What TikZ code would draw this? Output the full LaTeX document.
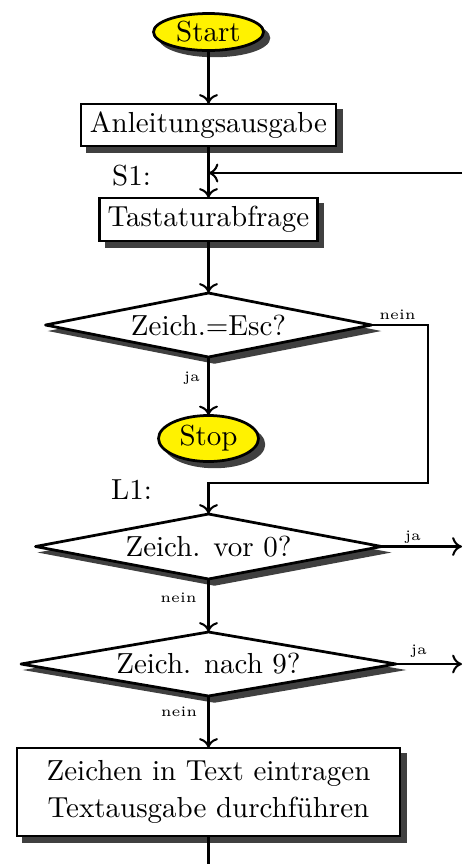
\documentclass[tikz,border=0pt]{standalone}
\usetikzlibrary{shapes.geometric,arrows.meta,calc}
\pgfdeclarelayer{bg}
\pgfsetlayers{bg,main}
\def\PX{0.345pt}
\tikzset{
  base/.style={draw, line width=0.95pt, inner sep=0pt, outer sep=0pt, fill=white, font=\normalsize},
  term/.style={base, ellipse, fill=yellow},
  procbox/.style={base, rectangle},
  decide/.style={base, diamond, line join=round},
  conn/.style={line width=0.7pt, -{To[length=3.4pt,width=6.5pt]}},
  plainconn/.style={line width=0.7pt},
  lbl/.style={font=\tiny, inner sep=0pt},
  jump/.style={font=\normalsize, inner sep=0pt},
  shade/.style={fill=black!75, draw=black!75, line width=0.5pt, line join=miter},
}
\newcommand\ShRect[1]{\path[shade] ([shift={(6,6)}]#1.north west) rectangle ([shift={(6,6)}]#1.south east);}
\newcommand\ShDiam[1]{\path[shade] ([shift={(6,6)}]#1.north) -- ([shift={(6,6)}]#1.east) -- ([shift={(6,6)}]#1.south) -- ([shift={(6,6)}]#1.west) -- cycle;}
\newcommand\ShEll[3]{\path[shade] ([shift={(6,6)}]#1.center) ellipse [x radius=#2*0.345pt, y radius=#3*0.345pt];}
\begin{document}
\begin{tikzpicture}[x=\PX, y=-\PX]
\useasboundingbox (0,0) rectangle (462,864);

% nodes
\node[term, minimum width=110*\PX, minimum height=37*\PX] (start) at (208.5,32) {Start};
\node[procbox, minimum width=255*\PX, minimum height=42*\PX] (b1) at (208.5,125) {Anleitungsausgabe};
\node[procbox, minimum width=218*\PX, minimum height=43*\PX] (b2) at (208.5,219.5) {Tastaturabfrage};
\node[decide, aspect=5.1, minimum width=326*\PX, minimum height=64*\PX] (d1) at (208.5,325) {Zeich.=Esc?};
\node[term, minimum width=100*\PX, minimum height=46*\PX] (stop) at (208.5,438.5) {Stop};
\node[decide, aspect=5.3, minimum width=346*\PX, minimum height=65*\PX] (d2) at (208.5,546.5) {Zeich. vor 0?};
\node[decide, aspect=5.8, minimum width=375*\PX, minimum height=64*\PX] (d3) at (208.5,664) {Zeich. nach 9?};
\node[procbox, minimum width=383*\PX, minimum height=88*\PX, align=center] (b3) at (208.5,792) {Zeichen in Text eintragen\\[0.8pt]Textausgabe durchführen};

% shadows
\begin{pgfonlayer}{bg}
  \ShEll{start}{55}{18.5}
  \ShRect{b1}
  \ShRect{b2}
  \ShDiam{d1}
  \ShEll{stop}{50}{23}
  \ShDiam{d2}
  \ShDiam{d3}
  \ShRect{b3}
\end{pgfonlayer}

% jump labels
\node[jump] (s1) at (131.5,176) {S1:};
\node[jump] (l1) at (131.5,490) {L1:};

% coordinates
\coordinate (s1in) at (462,173);
\coordinate (r1) at (428,483);
\coordinate (j1) at (462,546.5);
\coordinate (j2) at (462,664);
\coordinate (fin) at (208.5,864);

% connectors
\draw[conn] (start.south) -- (b1.north);
\draw[conn] (b1.south) -- (b2.north);
\draw[conn] (s1in) -- (s1in -| b1.south);
\draw[conn] (b2.south) -- (d1.north);
\draw[conn] (d1.south) -- (stop.north);
\draw[conn] (d1.east) -| (r1) -- (r1 -| d2.north) -- (d2.north);
\draw[conn] (d2.east) -- (j1);
\draw[conn] (d2.south) -- (d3.north);
\draw[conn] (d3.east) -- (j2);
\draw[conn] (d3.south) -- (b3.north);
\draw[plainconn] (b3.south) -- (fin);

% branch labels
\node[lbl] (n1) at (397.5,315) {nein};
\node[lbl] (y1) at (192,378) {ja};
\node[lbl] (y2) at (413,537) {ja};
\node[lbl] (n2) at (178.5,598) {nein};
\node[lbl] (y3) at (419,651) {ja};
\node[lbl] (n3) at (179,712) {nein};
\end{tikzpicture}
\end{document}
